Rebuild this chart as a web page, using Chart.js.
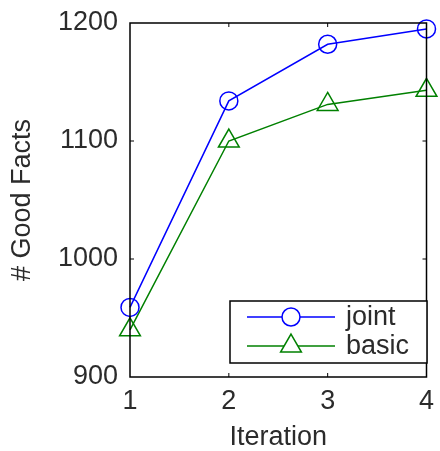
<!DOCTYPE html>
<html>
<head>
<meta charset="utf-8">
<script src="https://cdn.jsdelivr.net/npm/chart.js@4/dist/chart.umd.min.js"></script>
<style>
  html, body { margin: 0; padding: 0; background: #fff; }
  #wrap { width: 440px; height: 451px; }
</style>
</head>
<body>
<div id="wrap"><canvas id="my-chart"></canvas></div>
<script>
const iterations = [1, 2, 3, 4];
const jointFacts = [959, 1134, 1182, 1195];
const basicFacts = [940, 1100, 1131, 1143];
const yTicks = [900, 1000, 1100, 1200];

const FONT = "'Liberation Sans', Arial, sans-serif";
const TXT = "#2b2b2b";
const SIZE = 27;

// box, inward tick marks and the boxed legend, MATLAB style
const matlabBox = {
  id: "matlabBox",
  afterDatasetsDraw(chart) {
    const { ctx, chartArea: a, scales } = chart;
    ctx.save();
    ctx.strokeStyle = "#000";
    ctx.lineWidth = 1.5;
    ctx.strokeRect(a.left, a.top, a.right - a.left, a.bottom - a.top);
    ctx.lineWidth = 1;
    iterations.slice(1, -1).forEach(v => {
      const x = scales.x.getPixelForValue(v);
      ctx.beginPath();
      ctx.moveTo(x, a.top); ctx.lineTo(x, a.top + 4);
      ctx.moveTo(x, a.bottom); ctx.lineTo(x, a.bottom - 4);
      ctx.stroke();
    });
    yTicks.slice(1, -1).forEach(v => {
      const y = scales.y.getPixelForValue(v);
      ctx.beginPath();
      ctx.moveTo(a.left, y); ctx.lineTo(a.left + 4, y);
      ctx.moveTo(a.right, y); ctx.lineTo(a.right - 4, y);
      ctx.stroke();
    });

    // legend
    const lx = 230, ly = 301, lw = 197, lh = 62;
    ctx.fillStyle = "#fff";
    ctx.fillRect(lx, ly, lw, lh);
    ctx.strokeStyle = "#000";
    ctx.lineWidth = 1.5;
    ctx.strokeRect(lx, ly, lw, lh);
    ctx.font = SIZE + "px " + FONT;
    ctx.textBaseline = "middle";
    chart.data.datasets.forEach((ds, i) => {
      const y = ly + 16 + i * 29;
      ctx.strokeStyle = ds.borderColor;
      ctx.lineWidth = 1.5;
      ctx.beginPath();
      ctx.moveTo(lx + 17, y); ctx.lineTo(lx + 105, y);
      ctx.stroke();
      ctx.fillStyle = "#fff";
      Chart.helpers.drawPoint(ctx, {
        pointStyle: ds.pointStyle, radius: ds.pointRadius,
        borderWidth: 1.5, rotation: 0
      }, lx + 61, y);
      ctx.fillStyle = TXT;
      ctx.fillText(ds.label, lx + 116, y + 1);
    });
    ctx.restore();
  }
};

new Chart(document.getElementById("my-chart"), {
  type: "line",
  data: {
    labels: iterations,
    datasets: [
      {
        label: "joint",
        data: iterations.map((x, i) => ({ x, y: jointFacts[i] })),
        borderColor: "#0000ff",
        backgroundColor: "rgba(0,0,0,0)",
        borderWidth: 1.5,
        pointStyle: "circle",
        pointRadius: 9,
        pointBorderWidth: 1.5,
        clip: false,
      },
      {
        label: "basic",
        data: iterations.map((x, i) => ({ x, y: basicFacts[i] })),
        borderColor: "#008000",
        backgroundColor: "rgba(0,0,0,0)",
        borderWidth: 1.5,
        pointStyle: "triangle",
        pointRadius: 12,
        pointBorderWidth: 1.5,
        clip: false,
      },
    ],
  },
  options: {
    responsive: true,
    maintainAspectRatio: false,
    animation: false,
    layout: { padding: { left: 0, right: 7, top: 23, bottom: 0 } },
    plugins: { legend: { display: false }, tooltip: { enabled: false } },
    scales: {
      x: {
        type: "linear",
        min: 1,
        max: 4,
        afterBuildTicks: s => { s.ticks = iterations.map(v => ({ value: v })); },
        afterFit: s => { s.height = 74; s.paddingLeft = 0; s.paddingRight = 0; },
        grid: { display: false, drawTicks: false },
        border: { display: false },
        ticks: { color: TXT, font: { family: FONT, size: SIZE }, padding: 8, maxRotation: 0 },
        title: { display: true, text: "Iteration", color: TXT, font: { family: FONT, size: SIZE, lineHeight: 1 }, padding: { top: 0, bottom: 0 } },
      },
      y: {
        min: 900,
        max: 1200,
        afterBuildTicks: s => { s.ticks = yTicks.map(v => ({ value: v })); },
        afterFit: s => { s.width = 130; s.paddingTop = 0; s.paddingBottom = 0; },
        grid: { display: false, drawTicks: false },
        border: { display: false },
        ticks: { color: TXT, font: { family: FONT, size: SIZE }, padding: 12, callback: v => String(v) },
        title: { display: true, text: "# Good Facts", color: TXT, font: { family: FONT, size: SIZE, lineHeight: 1 }, padding: { top: 9, bottom: 0 } },
      },
    },
  },
  plugins: [matlabBox],
});
</script>
</body>
</html>
